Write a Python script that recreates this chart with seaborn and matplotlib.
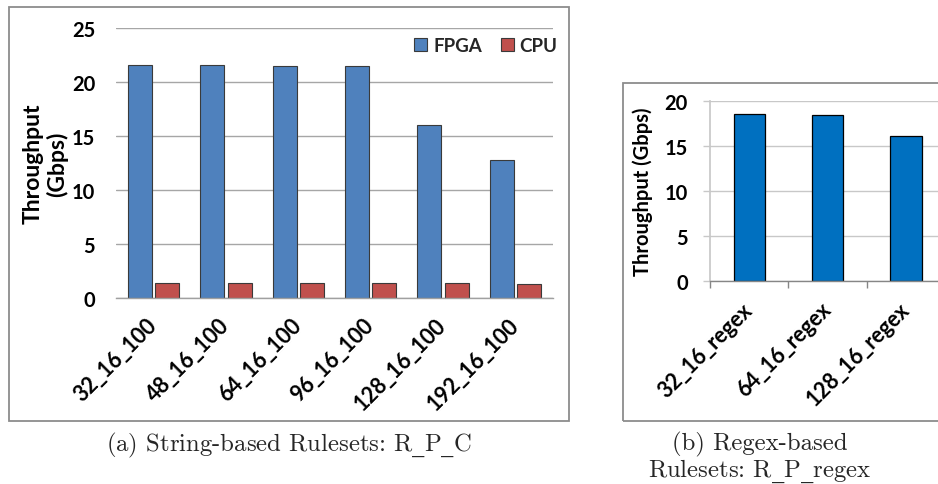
import numpy as np
import pandas as pd
import seaborn as sns
import matplotlib.pyplot as plt
from matplotlib.patches import Rectangle

# string-based rulesets (left panel)
rulesets = ['32_16_100', '48_16_100', '64_16_100', '96_16_100', '128_16_100', '192_16_100']
fpga_gbps = [21.6, 21.6, 21.5, 21.5, 16.0, 12.8]
cpu_gbps = [1.42, 1.42, 1.42, 1.42, 1.42, 1.33]

# regex-based rulesets (right panel)
regex_rulesets = ['32_16_regex', '64_16_regex', '128_16_regex']
regex_gbps = [18.5, 18.4, 16.1]

sns.set_theme(style='white')
plt.rcParams['font.family'] = ['Lato', 'DejaVu Sans']
plt.rcParams['mathtext.fontset'] = 'dejavuserif'

df = pd.DataFrame({
    'ruleset': rulesets * 2,
    'gbps': fpga_gbps + cpu_gbps,
    'platform': ['FPGA'] * len(rulesets) + ['CPU'] * len(rulesets),
})

W, H = 938, 485
fig = plt.figure(figsize=(W / 100, H / 100), dpi=100)

# frames around the two sub-figures
fig.add_artist(Rectangle((9 / W, 1 - 421.5 / H), 560 / W, 414 / H, transform=fig.transFigure,
                         fill=False, edgecolor='#8c8c8c', linewidth=1.3))
fig.add_artist(Rectangle((623 / W, 1 - 422 / H), 400 / W, 338 / H, transform=fig.transFigure,
                         fill=False, edgecolor='#8c8c8c', linewidth=1.3))

# ---- left panel
ax1 = fig.add_axes([116 / W, 1 - 299 / H, 437 / W, 270 / H])
sns.barplot(data=df, x='ruleset', y='gbps', hue='platform',
            palette={'FPGA': '#4F81BD', 'CPU': '#C0504D'}, saturation=1,
            width=0.76, gap=0.13, edgecolor='#3a3a3a', linewidth=0.8, ax=ax1)
ax1.set_ylim(0, 25)
ax1.set_xlim(-0.52, 5.52)
ax1.set_yticks(np.arange(0, 26, 5))
ax1.yaxis.grid(True, color='#a6a6a6', linewidth=1)
ax1.set_axisbelow(True)
for s in ['top', 'left', 'right']:
    ax1.spines[s].set_visible(False)
ax1.spines['bottom'].set_color('#a0a0a0')
ax1.spines['bottom'].set_linewidth(1)
ax1.tick_params(axis='y', length=0, pad=15, labelsize=14.5, labelcolor='black')
ax1.tick_params(axis='x', length=0, pad=17, labelsize=15.5, labelcolor='black')
for t in ax1.get_yticklabels():
    t.set_fontweight('bold')
for t in ax1.get_xticklabels():
    t.set_fontweight('bold')
    t.set_rotation(45)
    t.set_ha('right')
    t.set_va('center')
    t.set_rotation_mode('anchor')
ax1.set_xlabel('')
ax1.set_ylabel('Throughput\n(Gbps)', fontsize=16.5, fontweight='bold',
               linespacing=1.15, color='black')
ax1.yaxis.set_label_coords(-0.11, 0.5)

leg = ax1.get_legend()
handles = leg.legend_handles
labels = [t.get_text() for t in leg.get_texts()]
ax1.legend(handles, labels, loc='upper right', bbox_to_anchor=(1.01, 0.965), ncol=2,
           frameon=False, borderaxespad=0, borderpad=0, handlelength=0.7, handleheight=0.7,
           handletextpad=0.3, columnspacing=1.0,
           prop={'weight': 'bold', 'size': 13.5})

# ---- right panel
ax2 = fig.add_axes([710 / W, 1 - 282 / H, 235 / W, 180.3 / H])
sns.barplot(x=regex_rulesets, y=regex_gbps, color='#0070C0', saturation=1, width=0.4,
            edgecolor='black', linewidth=0.9, ax=ax2)
ax2.set_ylim(0, 20)
ax2.set_xlim(-0.5, 2.5)
ax2.set_yticks(np.arange(0, 21, 5))
ax2.yaxis.grid(True, color='#c8c8c8', linewidth=1)
ax2.set_axisbelow(True)
for s in ['top', 'right']:
    ax2.spines[s].set_visible(False)
ax2.spines['left'].set_color('#c8c8c8')
ax2.spines['bottom'].set_color('#868686')
ax2.spines['bottom'].set_linewidth(1)
ax2.set_xticks([-0.5, 0.5, 1.5, 2.5], minor=True)
ax2.tick_params(axis='x', which='minor', length=5, width=1, color='#868686', bottom=True)
ax2.tick_params(axis='x', which='major', length=0, pad=18, labelsize=15.5, labelcolor='black')
ax2.tick_params(axis='y', length=5, width=1, color='#c8c8c8', left=True, pad=11,
                labelsize=14.5, labelcolor='black')
for t in ax2.get_yticklabels():
    t.set_fontweight('bold')
for t in ax2.get_xticklabels():
    t.set_fontweight('bold')
    t.set_rotation(45)
    t.set_ha('right')
    t.set_va('center')
    t.set_rotation_mode('anchor')
ax2.set_ylabel('Throughput (Gbps)', fontsize=14.5, fontweight='bold', color='black')
ax2.yaxis.set_label_coords(-0.243, 0.5)

# ---- captions (LaTeX-style underscores via mathtext)
cap = dict(ha='center', va='center', fontsize=17.8, family='cmr10')
fig.text(289 / W, 1 - 445 / H, r'(a) String-based Rulesets: R$\_$P$\_$C', **cap)
fig.text(760 / W, 1 - 444 / H, '(b) Regex-based', **cap)
fig.text(760 / W, 1 - 471 / H, r'Rulesets: R$\_$P$\_$regex', **cap)

fig.savefig('out.png', dpi=100)
